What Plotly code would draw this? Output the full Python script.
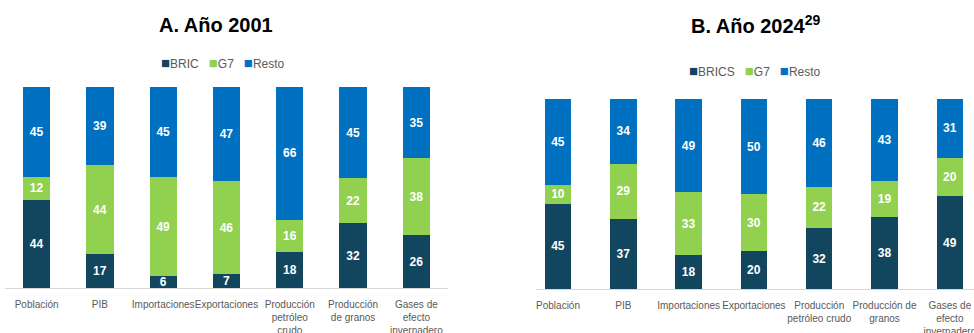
import plotly.graph_objects as go

# Categories (tick labels, with manual line breaks per panel)
labels_2001 = ["Población", "PIB", "Importaciones", "Exportaciones",
               "Producción<br>petróleo<br>crudo", "Producción<br>de granos",
               "Gases de<br>efecto<br>invernadero"]
labels_2024 = ["Población", "PIB", "Importaciones", "Exportaciones",
               "Producción<br>petróleo crudo", "Producción de<br>granos",
               "Gases de<br>efecto<br>invernadero"]

# Shares (%) in 2001
bric_2001 = [44, 17, 6, 7, 18, 32, 26]
g7_2001 = [12, 44, 49, 46, 16, 22, 38]
resto_2001 = [45, 39, 45, 47, 66, 45, 35]

# Shares (%) in 2024
brics_2024 = [45, 37, 18, 20, 32, 38, 49]
g7_2024 = [10, 29, 33, 30, 22, 19, 20]
resto_2024 = [45, 34, 49, 50, 46, 43, 31]

C_DARK = "#12455E"
C_GREEN = "#92D050"
C_BLUE = "#0070C0"
FONT = "Liberation Sans, Arial, sans-serif"
GREY = "#595959"

W, H = 974, 333


def seg(x, y, color, xa, ya, width):
    return go.Bar(
        x=x, y=y, text=y, texttemplate="%{text}",
        textposition="inside", insidetextanchor="middle", textangle=0,
        constraintext="none",
        textfont=dict(family=FONT, size=12, color="white", weight="bold"),
        marker=dict(color=color, line=dict(width=0)),
        width=width, xaxis=xa, yaxis=ya, showlegend=False, hoverinfo="skip",
    )


fig = go.Figure()
for vals, col in [(bric_2001, C_DARK), (g7_2001, C_GREEN), (resto_2001, C_BLUE)]:
    fig.add_trace(seg(labels_2001, vals, col, "x", "y", 0.43))
for vals, col in [(brics_2024, C_DARK), (g7_2024, C_GREEN), (resto_2024, C_BLUE)]:
    fig.add_trace(seg(labels_2024, vals, col, "x2", "y2", 0.405))

xcommon = dict(type="category", showgrid=False, zeroline=False, showline=True,
               linecolor="#D9D9D9", linewidth=1, ticks="", fixedrange=True,
               ticklabelstandoff=7, automargin=False,
               tickfont=dict(family=FONT, size=10, color=GREY), tickangle=0)
ycommon = dict(range=[0, 100], showgrid=False, zeroline=False, showline=False,
               showticklabels=False, fixedrange=True, automargin=False)

fig.update_layout(
    width=W, height=H, margin=dict(l=0, r=0, t=0, b=0, autoexpand=False),
    paper_bgcolor="white", plot_bgcolor="white",
    barmode="stack", barnorm="percent",
    xaxis=dict(xcommon, domain=[5 / W, 448 / W], range=[-0.5, 6.5], anchor="y"),
    yaxis=dict(ycommon, domain=[(H - 288) / H, (H - 87) / H], anchor="x"),
    xaxis2=dict(xcommon, domain=[536 / W, 1.0], range=[-0.337, 6.37], anchor="y2"),
    yaxis2=dict(ycommon, domain=[(H - 289.3) / H, (H - 99) / H], anchor="x2"),
)


def legend_text(names):
    cols = [C_DARK, C_GREEN, C_BLUE]
    parts = []
    for n, c in zip(names, cols):
        parts.append(f"<span style='color:{c};font-size:15px'>■</span>{n}")
    return "&nbsp;&nbsp;&nbsp;".join(parts)


annotations = [
    dict(text="<b>A. Año 2001</b>", x=216 / W, y=1 - 25 / H,
         font=dict(family=FONT, size=20, color="black")),
    dict(text="<b>B. Año 2024<sup>29</sup></b>", x=756 / W, y=1 - 25 / H,
         font=dict(family=FONT, size=20, color="black")),
    dict(text=legend_text(["BRIC", "G7", "Resto"]), x=223 / W, y=1 - 62 / H,
         font=dict(family=FONT, size=12, color=GREY)),
    dict(text=legend_text(["BRICS", "G7", "Resto"]), x=755 / W, y=1 - 70 / H,
         font=dict(family=FONT, size=12, color=GREY)),
]
for a in annotations:
    a.update(xref="paper", yref="paper", showarrow=False,
             xanchor="center", yanchor="middle")
fig.update_layout(annotations=annotations)

fig.write_html("out.html", config={"displayModeBar": False})
